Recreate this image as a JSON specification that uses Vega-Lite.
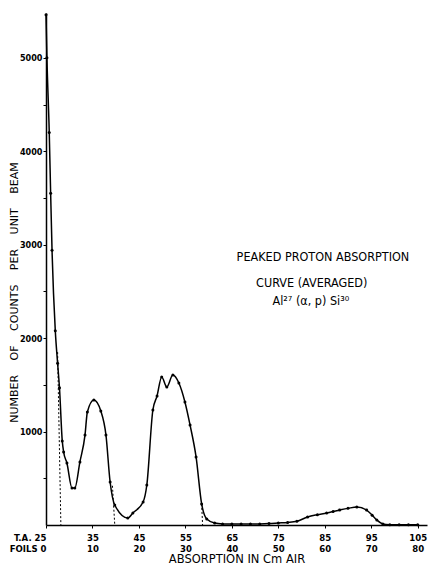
{
  "$schema": "https://vega.github.io/schema/vega-lite/v6.json",
  "width": 381,
  "height": 512,
  "autosize": "none",
  "padding": {"left": 46, "top": 13, "right": 1, "bottom": 43},
  "background": "white",
  "config": {
    "view": {"stroke": null},
    "font": "DejaVu Sans Condensed",
    "axis": {
      "domainColor": "black",
      "domainWidth": 1.5,
      "tickColor": "black",
      "grid": false,
      "labelColor": "black",
      "titleColor": "black",
      "labelFont": "DejaVu Sans Condensed",
      "titleFont": "DejaVu Sans",
      "labelFontWeight": "bold",
      "titleFontWeight": "normal"
    }
  },
  "datasets": {
    "curve": [
      {"cm": 25.0, "counts": 5460},
      {"cm": 25.2, "counts": 5000},
      {"cm": 25.7, "counts": 4200},
      {"cm": 26.0, "counts": 3550},
      {"cm": 26.3, "counts": 2940},
      {"cm": 27.0, "counts": 2080},
      {"cm": 27.5, "counts": 1730},
      {"cm": 27.9, "counts": 1470},
      {"cm": 28.5, "counts": 900},
      {"cm": 28.8, "counts": 780},
      {"cm": 29.5, "counts": 664},
      {"cm": 30.6, "counts": 396},
      {"cm": 31.2, "counts": 396},
      {"cm": 32.3, "counts": 675},
      {"cm": 33.4, "counts": 964},
      {"cm": 33.9, "counts": 1210},
      {"cm": 35.3, "counts": 1338},
      {"cm": 36.8, "counts": 1220},
      {"cm": 37.9, "counts": 964},
      {"cm": 38.8, "counts": 460},
      {"cm": 39.8, "counts": 214},
      {"cm": 42.6, "counts": 75},
      {"cm": 43.7, "counts": 128},
      {"cm": 45.9, "counts": 246},
      {"cm": 46.7, "counts": 428},
      {"cm": 48.0, "counts": 1231},
      {"cm": 48.9, "counts": 1381},
      {"cm": 49.9, "counts": 1585},
      {"cm": 51.0, "counts": 1478},
      {"cm": 52.3, "counts": 1606},
      {"cm": 53.6, "counts": 1520},
      {"cm": 54.9, "counts": 1317},
      {"cm": 56.0, "counts": 1071},
      {"cm": 57.3, "counts": 728},
      {"cm": 58.5, "counts": 225},
      {"cm": 59.6, "counts": 64},
      {"cm": 61.3, "counts": 21},
      {"cm": 63.0, "counts": 12},
      {"cm": 65.0, "counts": 10},
      {"cm": 67.0, "counts": 10},
      {"cm": 69.0, "counts": 10},
      {"cm": 71.0, "counts": 12},
      {"cm": 73.0, "counts": 16},
      {"cm": 75.0, "counts": 22},
      {"cm": 77.0, "counts": 28},
      {"cm": 79.0, "counts": 40},
      {"cm": 81.3, "counts": 86},
      {"cm": 83.4, "counts": 110},
      {"cm": 85.4, "counts": 128},
      {"cm": 86.8, "counts": 145},
      {"cm": 88.2, "counts": 160},
      {"cm": 90.0, "counts": 178},
      {"cm": 91.9, "counts": 193},
      {"cm": 94.0, "counts": 160},
      {"cm": 95.2, "counts": 105},
      {"cm": 96.2, "counts": 54},
      {"cm": 97.5, "counts": 11},
      {"cm": 99.0, "counts": 4},
      {"cm": 101.0, "counts": 2},
      {"cm": 103.0, "counts": 2},
      {"cm": 105.0, "counts": 2}
    ],
    "dashed": [
      {"seg": "a", "cm": 27.5, "counts": 1850},
      {"seg": "a", "cm": 28.2, "counts": 0},
      {"seg": "b", "cm": 39.3, "counts": 420},
      {"seg": "b", "cm": 39.8, "counts": 0},
      {"seg": "c", "cm": 58.5, "counts": 225},
      {"seg": "c", "cm": 58.7, "counts": 0}
    ],
    "notes": [
      {"cm": 84.6, "counts": 2870, "text": "PEAKED PROTON ABSORPTION"},
      {"cm": 82.2, "counts": 2590, "text": "CURVE (AVERAGED)"},
      {"cm": 82.0, "counts": 2400, "text": "Al²⁷ (α, p) Si³⁰"}
    ]
  },
  "layer": [
    {
      "data": {"name": "curve"},
      "mark": {"type": "line", "color": "black", "strokeWidth": 1.5, "interpolate": "monotone"},
      "encoding": {
        "x": {
          "field": "cm", "type": "quantitative",
          "scale": {"domain": [25, 107], "nice": false, "zero": false},
          "axis": {
            "values": [25, 35, 45, 55, 65, 75, 85, 95, 105],
            "labelExpr": "datum.value == 25 ? ['T.A. 25', 'FOILS 0'] : [datum.label, '' + (datum.value - 25)]",
            "labelAlign": {"condition": {"test": "datum.value == 25", "value": "right"}, "value": "center"},
            "labelFontSize": 9.5,
            "labelLineHeight": 11,
            "labelPadding": 4,
            "tickSize": 3,
            "tickWidth": 1,
            "title": "ABSORPTION IN Cm AIR",
            "titleFontSize": 11.5,
            "titlePadding": 1
          }
        },
        "y": {
          "field": "counts", "type": "quantitative",
          "scale": {"domain": [0, 5480], "nice": false},
          "axis": {
            "values": [500, 1000, 1500, 2000, 2500, 3000, 3500, 4000, 4500, 5000],
            "format": "d",
            "labelExpr": "datum.value % 1000 === 0 ? datum.label : ''",
            "labelFontSize": 9,
            "labelPadding": 1,
            "tickSize": 3,
            "tickWidth": 1,
            "title": "NUMBER\u2003 OF\u2003 COUNTS\u2003 PER\u2003 UNIT\u2003 BEAM",
            "titleFontSize": 11,
            "titleX": -32,
            "titleY": 279,
            "titleAngle": -90,
            "titleAlign": "center",
            "titleBaseline": "middle"
          }
        }
      }
    },
    {
      "data": {"name": "curve"},
      "mark": {"type": "point", "filled": true, "color": "black", "size": 9, "opacity": 1},
      "encoding": {
        "x": {"field": "cm", "type": "quantitative"},
        "y": {"field": "counts", "type": "quantitative"}
      }
    },
    {
      "data": {"name": "dashed"},
      "mark": {"type": "line", "color": "black", "strokeWidth": 1, "strokeDash": [2, 2]},
      "encoding": {
        "x": {"field": "cm", "type": "quantitative"},
        "y": {"field": "counts", "type": "quantitative"},
        "detail": {"field": "seg"}
      }
    },
    {
      "data": {"name": "notes"},
      "mark": {"type": "text", "color": "black", "fontSize": 12.5, "font": "DejaVu Sans Condensed", "align": "center", "baseline": "middle"},
      "encoding": {
        "x": {"field": "cm", "type": "quantitative"},
        "y": {"field": "counts", "type": "quantitative"},
        "text": {"field": "text"}
      }
    }
  ]
}
